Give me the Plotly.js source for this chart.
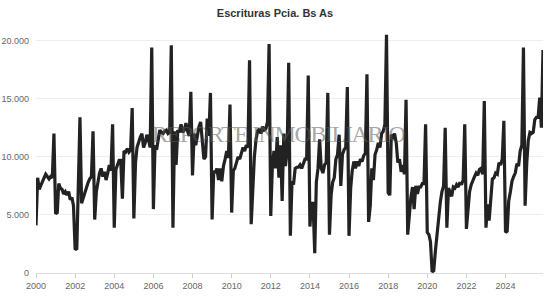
<!DOCTYPE html>
<html>
<head>
<meta charset="utf-8">
<script src="https://cdn.plot.ly/plotly-3.0.1.min.js"></script>
<style>
html,body{margin:0;padding:0;background:#fff;}
#chart{width:550px;height:299px;}
#chart .annotation-text{letter-spacing:-1.4px;}
</style>
</head>
<body>
<div id="chart"></div>
<script>
// Monthly values (Jan..Dec) per year
const y2000 = [4100, 8200, 7200, 7600, 8000, 8200, 8500, 8300, 8100, 8300, 8200, 12000];
const y2001 = [5100, 5200, 7700, 7300, 7200, 6800, 7000, 6700, 7000, 6300, 6500, 5800];
const y2002 = [2000, 2100, 6500, 13400, 6000, 6500, 7000, 7400, 7800, 8100, 8300, 12200];
const y2003 = [4600, 7000, 8000, 8600, 9000, 8300, 8700, 8000, 8600, 9300, 8800, 12800];
const y2004 = [3900, 8900, 9300, 9700, 9700, 6400, 10500, 10400, 10700, 10400, 10600, 14200];
const y2005 = [4700, 9500, 10800, 11300, 11700, 12000, 10800, 11200, 11900, 11500, 10800, 19400];
const y2006 = [5500, 11000, 10600, 11500, 12300, 12100, 12000, 12200, 12300, 12000, 12100, 19600];
const y2007 = [3900, 12200, 9300, 12300, 12100, 12800, 12100, 12300, 12900, 12200, 11800, 15600];
const y2008 = [8400, 12000, 11000, 11800, 12600, 13000, 11500, 9800, 10000, 13300, 11800, 15500];
const y2009 = [4600, 8800, 8600, 9000, 8000, 9000, 7900, 9200, 9800, 10500, 9900, 14500];
const y2010 = [5200, 8800, 9000, 9500, 10000, 9800, 10300, 10800, 10500, 11000, 10800, 18300];
const y2011 = [4200, 8000, 10000, 11500, 12200, 12400, 12000, 12600, 12300, 12400, 13000, 19700];
const y2012 = [4900, 9300, 10500, 9000, 11700, 8200, 11000, 6200, 12000, 9200, 10400, 18100];
const y2013 = [3200, 7900, 7600, 9000, 9100, 9100, 9300, 9000, 9500, 9800, 9800, 17000];
const y2014 = [4000, 6000, 6000, 1700, 7800, 9000, 11500, 9000, 8600, 9300, 9500, 15500];
const y2015 = [3300, 6700, 7800, 8200, 9800, 10200, 11900, 7500, 10200, 10600, 10800, 16000];
const y2016 = [3200, 7300, 8800, 9600, 9000, 9600, 9200, 9800, 9600, 10100, 10300, 17100];
const y2017 = [4400, 5800, 9000, 8000, 10200, 10600, 11200, 10800, 12000, 12200, 12800, 20500];
const y2018 = [6900, 6700, 11900, 11700, 12000, 11200, 9500, 9800, 8700, 9300, 8500, 14900];
const y2019 = [3300, 5400, 6500, 7400, 5500, 7500, 6800, 7400, 7400, 7700, 7700, 12800];
const y2020 = [3500, 3300, 2700, 100, 200, 1900, 3500, 4800, 6100, 7000, 7500, 12500];
const y2021 = [3900, 7300, 7000, 6600, 7400, 7300, 7600, 7400, 7800, 7600, 8000, 12800];
const y2022 = [3800, 5300, 7000, 7600, 8000, 8300, 8600, 8400, 8900, 9000, 8500, 14800];
const y2023 = [3900, 5900, 4500, 6800, 8100, 8200, 8600, 8500, 9500, 9300, 9800, 13100];
const y2024 = [3500, 3600, 6200, 7000, 7900, 8300, 8600, 9400, 9200, 10500, 11000, 19400];
const y2025 = [5800, 9500, 11400, 12100, 12000, 12100, 13200, 13400, 13400, 15100, 12500, 19200];

const years = [2000,2001,2002,2003,2004,2005,2006,2007,2008,2009,2010,2011,2012,2013,2014,2015,2016,2017,2018,2019,2020,2021,2022,2023,2024,2025];
const yearValues = [y2000,y2001,y2002,y2003,y2004,y2005,y2006,y2007,y2008,y2009,y2010,y2011,y2012,y2013,y2014,y2015,y2016,y2017,y2018,y2019,y2020,y2021,y2022,y2023,y2024,y2025];

const chartTitle = "Escrituras Pcia. Bs As";
const watermark = "REPORTE INMOBILIARIO";

const dates = [];
const values = [];
years.forEach((yr, i) => {
  yearValues[i].forEach((v, m) => {
    dates.push(yr + "-" + String(m + 1).padStart(2, "0") + "-01");
    values.push(v);
  });
});

const trace = {
  x: dates,
  y: values,
  type: "scatter",
  mode: "lines",
  line: {color: "#222222", width: 3.2},
  hoverinfo: "skip"
};

const layout = {
  width: 550,
  height: 299,
  margin: {l: 36, r: 7, t: 29, b: 26},
  paper_bgcolor: "#ffffff",
  plot_bgcolor: "#ffffff",
  separators: ",.",
  showlegend: false,
  title: {
    text: "<b>" + chartTitle + "</b>",
    x: 0.5, xanchor: "center",
    y: 0.955, yanchor: "middle",
    font: {family: "Liberation Sans, Arial, sans-serif", size: 11, color: "#333333"}
  },
  xaxis: {
    type: "date",
    range: ["2000-01-01", "2025-12-01"],
    tick0: "2000-01-01",
    dtick: "M24",
    tickformat: "%Y",
    showgrid: false,
    showline: true,
    linecolor: "#dddddd",
    linewidth: 1,
    ticks: "outside",
    ticklen: 4,
    tickcolor: "#cccccc",
    tickfont: {family: "Liberation Sans, Arial, sans-serif", size: 9, color: "#666666"},
    zeroline: false,
    fixedrange: true
  },
  yaxis: {
    range: [0, 21000],
    tickvals: [0, 5000, 10000, 15000, 20000],
    tickformat: ",d",
    showgrid: true,
    gridcolor: "#eeeeee",
    gridwidth: 1,
    zeroline: false,
    showline: false,
    ticks: "",
    ticklabelstandoff: 6,
    tickfont: {family: "Liberation Sans, Arial, sans-serif", size: 9, color: "#666666"},
    fixedrange: true
  },
  annotations: [{
    text: watermark,
    xref: "paper", yref: "paper",
    x: 0.479, y: 0.57,
    xanchor: "center", yanchor: "middle",
    showarrow: false,
    font: {family: "Liberation Serif, Times New Roman, serif", size: 24, color: "rgba(90,90,90,0.55)"}
  }]
};

Plotly.newPlot("chart", [trace], layout, {displayModeBar: false, staticPlot: true});
</script>
</body>
</html>
